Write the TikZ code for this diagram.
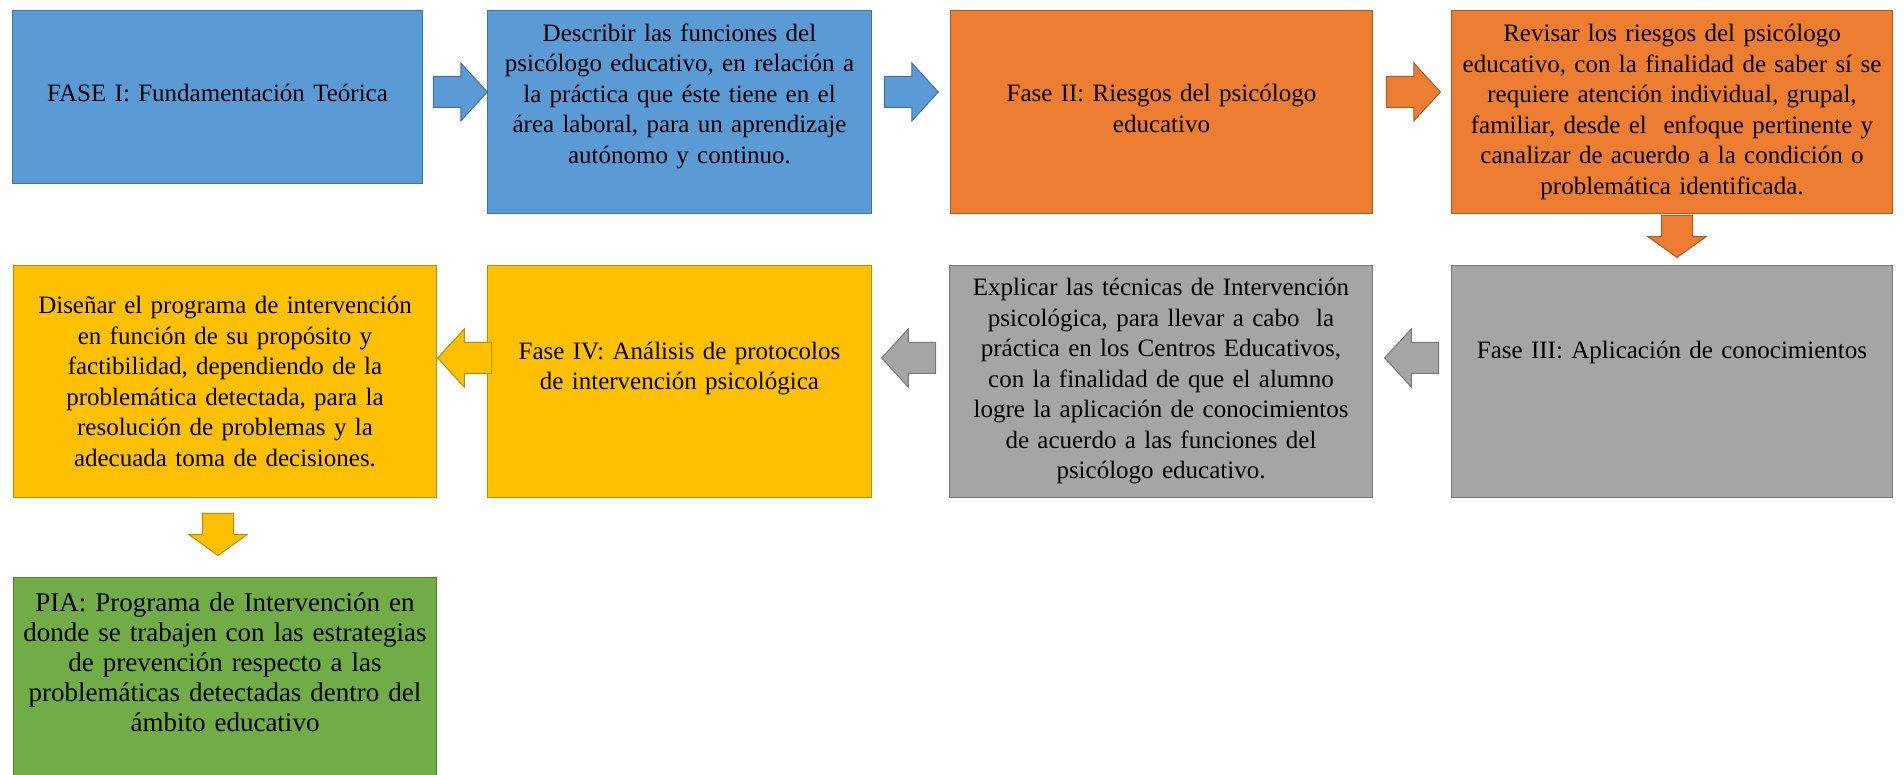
\documentclass[tikz,border=0pt]{standalone}
\usepackage{fontspec}
\setmainfont{Liberation Serif}
\usepackage{xcolor}
\usepackage{tikz}
\usetikzlibrary{shapes.arrows, positioning, calc}

\definecolor{fillblue}{HTML}{5B9BD5}
\definecolor{lineblue}{HTML}{41719C}
\definecolor{fillorange}{HTML}{ED7D31}
\definecolor{lineorange}{HTML}{AE5A21}
\definecolor{fillyellow}{HTML}{FFC000}
\definecolor{lineyellow}{HTML}{BC8C00}
\definecolor{fillgray}{HTML}{A5A5A5}
\definecolor{linegray}{HTML}{787878}
\definecolor{fillgreen}{HTML}{70AD47}
\definecolor{linegreen}{HTML}{507E32}

\begin{document}
\begin{tikzpicture}[x=1pt, y=-1pt,
    phase/.style={draw, line width=1pt, anchor=north west, inner sep=0pt,
        align=center, font=\fontsize{25}{30.5}\selectfont},
    bluephase/.style={phase, fill=fillblue, draw=lineblue},
    orangephase/.style={phase, fill=fillorange, draw=lineorange},
    yellowphase/.style={phase, fill=fillyellow, draw=lineyellow},
    grayphase/.style={phase, fill=fillgray, draw=linegray},
    greenphase/.style={phase, fill=fillgreen, draw=linegreen,
        font=\fontsize{27}{30}\selectfont},
    lift/.style={execute at end node={\vspace{#1}}},
    flow/.style 2 args={single arrow, line width=1pt, inner sep=15pt,
        single arrow head extend=13.5pt, single arrow tip angle=95,
        minimum height=54pt, anchor=tip, fill=#1, draw=#2},
    dropflow/.style 2 args={flow={#1}{#2}, rotate=-90, minimum height=40pt,
        single arrow tip angle=109}]

    % --- Page ---
    \useasboundingbox (0,0) rectangle (1904,775);
    \clip (0,0) rectangle (1904,775);

    % --- Row 1: Fase I and Fase II ---
    \node[bluephase, minimum width=410pt, minimum height=173pt, text width=400pt, lift=9pt] (b1) at (12,10)
        {FASE I: Fundamentación Teórica};
    \node[bluephase, minimum width=384pt, minimum height=203pt, text width=376pt, lift=32pt] (b2) at (487,10)
        {Describir las funciones del\\ psicólogo educativo, en relación a\\ la práctica que éste tiene en el\\
         área laboral, para un aprendizaje\\ autónomo y continuo.};
    \node[orangephase, minimum width=422pt, minimum height=203pt, text width=412pt, lift=7pt] (b3) at (950,10)
        {Fase II: Riesgos del psicólogo\\ educativo};
    \node[orangephase, minimum width=441pt, minimum height=203pt, text width=433pt] (b4) at (1451,10)
        {Revisar los riesgos del psicólogo\\ educativo, con la finalidad de saber sí se\\
         requiere atención individual, grupal,\\ familiar, desde el~ enfoque pertinente y\\
         canalizar de acuerdo a la condición o\\ problemática identificada.};

    % --- Row 2: Fase III and Fase IV ---
    \node[yellowphase, minimum width=423pt, minimum height=232pt, text width=413pt] (b5) at (13,265)
        {Diseñar el programa de intervención\\ en función de su propósito y\\ factibilidad, dependiendo de la\\
         problemática detectada, para la\\ resolución de problemas y la\\ adecuada toma de decisiones.};
    \node[yellowphase, minimum width=384pt, minimum height=232pt, text width=376pt, lift=26pt] (b6) at (487,265)
        {Fase IV: Análisis de protocolos\\ de intervención psicológica};
    \node[grayphase, minimum width=423pt, minimum height=232pt, text width=413pt] (b7) at (949,265)
        {Explicar las técnicas de Intervención\\ psicológica, para llevar a cabo~ la\\
         práctica en los Centros Educativos,\\ con la finalidad de que el alumno\\
         logre la aplicación de conocimientos\\ de acuerdo a las funciones del\\ psicólogo educativo.};
    \node[grayphase, minimum width=441pt, minimum height=232pt, text width=433pt, lift=58pt] (b8) at (1451,265)
        {Fase III: Aplicación de conocimientos};

    % --- Row 3: PIA ---
    \node[greenphase, minimum width=423pt, minimum height=210pt, text width=413pt, lift=40pt] (b9) at (13,577)
        {PIA: Programa de Intervención en\\ donde se trabajen con las estrategias\\ de prevención respecto a las\\
         problemáticas detectadas dentro del\\ ámbito educativo};

    % --- Block arrows, left to right on top ---
    \path (b1.east |- 0,92) -- ($(b2.west |- 0,92)+(1,0)$) node[flow={fillblue}{lineblue}] (a12) {};
    \path (b2.east |- 0,92) -- ($(b3.west |- 0,92)+(-11,0)$) node[flow={fillblue}{lineblue}] (a23) {};
    \path (b3.east |- 0,92) -- ($(b4.west |- 0,92)+(-10,0)$) node[flow={fillorange}{lineorange}] (a34) {};

    % --- Down to the second row ---
    \path (b4.south) -- ($(b8.north)+(5,-7)$) node[dropflow={fillorange}{lineorange}] (a48) {};

    % --- Block arrows, right to left below ---
    \path (b8.west |- 0,358) -- ($(b7.east |- 0,358)+(11,0)$) node[flow={fillgray}{linegray}, rotate=180] (a87) {};
    \path (b7.west |- 0,358) -- ($(b6.east |- 0,358)+(9,0)$) node[flow={fillgray}{linegray}, rotate=180] (a76) {};
    \path (b6.west |- 0,358) -- (b5.east |- 0,358) node[flow={fillyellow}{lineyellow}, rotate=180] (a65) {};

    % --- Down to PIA ---
    \path (b5.south) -- ($(b9.north)+(-7,-21)$) node[dropflow={fillyellow}{lineyellow}] (a59) {};

\end{tikzpicture}
\end{document}
